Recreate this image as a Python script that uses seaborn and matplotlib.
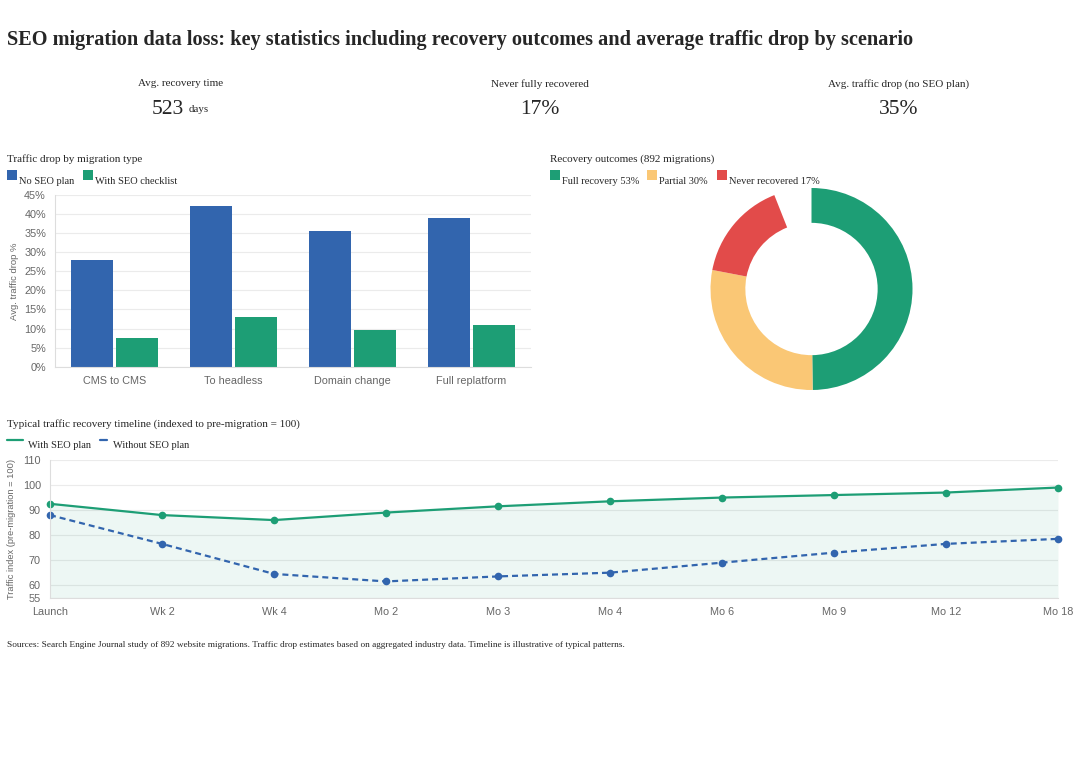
import numpy as np
import pandas as pd
import seaborn as sns
import matplotlib.pyplot as plt
from matplotlib.patches import Rectangle
from matplotlib.lines import Line2D

# ---- data ----
migration_types = ['CMS to CMS', 'To headless', 'Domain change', 'Full replatform']
drop_no_plan = [28, 42, 35.5, 39]
drop_checklist = [7.5, 13, 9.5, 11]

outcome_labels = ['Full recovery 53%', 'Partial 30%', 'Never recovered 17%']
outcome_share = [53, 30, 17]

timeline = ['Launch', 'Wk 2', 'Wk 4', 'Mo 2', 'Mo 3', 'Mo 4', 'Mo 6', 'Mo 9', 'Mo 12', 'Mo 18']
with_plan = [92.5, 88, 86, 89, 91.5, 93.5, 95, 96, 97, 99]
without_plan = [88, 76.5, 64.5, 61.5, 63.5, 65, 69, 73, 76.5, 78.5]

stat_labels = ['Avg. recovery time', 'Never fully recovered', 'Avg. traffic drop (no SEO plan)']
stat_values = ['523', '17%', '35%']

blue = '#3265AE'
green = '#1D9E75'
yellow = '#FAC775'
red = '#E24B4A'
tick_col = '#666666'
grid_col = '#ebebeb'

sns.set_style('white')
plt.rcParams['font.family'] = ['Liberation Serif', 'DejaVu Serif']
SANS = ['Liberation Sans', 'DejaVu Sans']

W, H = 1080, 759
fig = plt.figure(figsize=(W / 100, H / 100), dpi=100)
fig.patch.set_facecolor('white')


def fx(x):
    return x / W


def fy(y):
    return 1 - y / H


def ftext(x, y, s, **kw):
    kw.setdefault('va', 'center')
    fig.text(fx(x), fy(y), s, **kw)


def legend_box(x, y, color):
    fig.add_artist(Rectangle((fx(x), fy(y + 5)), 10 / W, 10 / H, transform=fig.transFigure,
                             facecolor=color, edgecolor='none'))


# title + stat row
ftext(7, 40, 'SEO migration data loss: key statistics including recovery outcomes and average traffic drop by scenario',
      fontsize=14.6, fontweight='bold', ha='left')
centers = [181, 540, 899]
for cx, lab in zip(centers, stat_labels):
    ftext(cx, 84, lab, fontsize=8, ha='center')
for cx, val in zip(centers[1:], stat_values[1:]):
    ftext(cx, 110, val, fontsize=15.5, ha='center')
ftext(183.5, 110, stat_values[0], fontsize=15.5, ha='right')
ftext(189, 109, 'days', fontsize=7.8, ha='left')

# ---- bar chart ----
ftext(7, 159, 'Traffic drop by migration type', fontsize=8, ha='left')
legend_box(7, 175, blue)
ftext(19, 181, 'No SEO plan', fontsize=7.5, ha='left')
legend_box(83, 175, green)
ftext(95, 181, 'With SEO checklist', fontsize=7.5, ha='left')

ax1 = fig.add_axes([fx(55), fy(366.7), (531 - 55) / W, (366.7 - 195) / H])
bars = pd.DataFrame({
    'type': migration_types * 2,
    'drop': drop_no_plan + drop_checklist,
    'plan': ['No SEO plan'] * len(migration_types) + ['With SEO checklist'] * len(migration_types),
})
sns.barplot(data=bars, x='type', y='drop', hue='plan', palette=[blue, green], width=0.76, gap=0.07,
            saturation=1, linewidth=0, legend=False, ax=ax1)
ax1.set_xlim(-0.5, len(migration_types) - 0.5)
ax1.set_ylim(0, 45)
ax1.set_yticks(range(0, 50, 5))
ax1.set_yticklabels([f'{v}%' for v in range(0, 50, 5)])
ax1.set_xlabel('')
ax1.set_ylabel('Avg. traffic drop %', family=SANS, fontsize=6.8, color=tick_col, labelpad=4)
ax1.grid(axis='y', color=grid_col, lw=0.8)
ax1.set_axisbelow(True)
for s in ['top', 'right']:
    ax1.spines[s].set_visible(False)
for s in ['left', 'bottom']:
    ax1.spines[s].set_color('#dddddd')
    ax1.spines[s].set_linewidth(0.8)
ax1.tick_params(length=0, labelsize=7.8, colors=tick_col, pad=6.5)
for t in ax1.get_xticklabels() + ax1.get_yticklabels():
    t.set_family(SANS)

# ---- donut ----
ftext(550, 159, 'Recovery outcomes (892 migrations)', fontsize=8, ha='left')
for lx, tx, lab, col in zip([550, 647, 717], [562, 659, 729], outcome_labels, [green, yellow, red]):
    legend_box(lx, 175, col)
    ftext(tx, 181, lab, fontsize=7.5, ha='left')

cx, cy, r = 811.5, 289, 101
ax2 = fig.add_axes([fx(cx - r * 1.1), fy(cy + r * 1.1), 2.2 * r / W, 2.2 * r / H])
circumference = 0.94
ax2.pie(np.array(outcome_share) / 100 * circumference, normalize=False, colors=[green, yellow, red],
        startangle=90, counterclock=False, radius=1,
        wedgeprops=dict(width=0.345, edgecolor='none'))
ax2.set_xlim(-1.1, 1.1)
ax2.set_ylim(-1.1, 1.1)
ax2.axis('off')

# ---- timeline ----
ftext(7, 424, 'Typical traffic recovery timeline (indexed to pre-migration = 100)', fontsize=8, ha='left')
fig.add_artist(Line2D([fx(7), fx(23)], [fy(439.5)] * 2, transform=fig.transFigure, color=green, lw=1.6))
ftext(27.5, 445.5, 'With SEO plan', fontsize=7.5, ha='left')
fig.add_artist(Line2D([fx(100), fx(107)], [fy(439.5)] * 2, transform=fig.transFigure, color=blue, lw=1.6))
ftext(113, 445.5, 'Without SEO plan', fontsize=7.5, ha='left')

ax3 = fig.add_axes([fx(50), fy(597.7), (1058 - 50) / W, (597.7 - 460) / H])
ax3.fill_between(range(len(timeline)), with_plan, 55, color=green, alpha=0.08, lw=0)
sns.lineplot(x=timeline, y=with_plan, sort=False, color=green, lw=1.6, marker='o', markersize=5.5,
             markeredgewidth=0, clip_on=False, ax=ax3)
sns.lineplot(x=timeline, y=without_plan, sort=False, color=blue, lw=1.6, marker='o', markersize=5.5,
             markeredgewidth=0, clip_on=False, ax=ax3)
ax3.lines[-1].set_dashes([2.7, 1.8])
ax3.set_xlim(0, len(timeline) - 1)
ax3.set_ylim(55, 110)
ax3.set_yticks([55, 60, 70, 80, 90, 100, 110])
ax3.set_ylabel('Traffic index (pre-migration = 100)', family=SANS, fontsize=6.7, color=tick_col, labelpad=5)
ax3.grid(axis='y', color=grid_col, lw=0.8)
ax3.set_axisbelow(True)
for s in ['top', 'right']:
    ax3.spines[s].set_visible(False)
for s in ['left', 'bottom']:
    ax3.spines[s].set_color('#dddddd')
    ax3.spines[s].set_linewidth(0.8)
ax3.tick_params(length=0, labelsize=7.8, colors=tick_col, pad=6.5)
for t in ax3.get_xticklabels() + ax3.get_yticklabels():
    t.set_family(SANS)

ftext(7, 645, 'Sources: Search Engine Journal study of 892 website migrations. Traffic drop estimates based on '
      'aggregated industry data. Timeline is illustrative of typical patterns.', fontsize=6.7, ha='left')

fig.savefig('out.png', dpi=100, facecolor='white')
